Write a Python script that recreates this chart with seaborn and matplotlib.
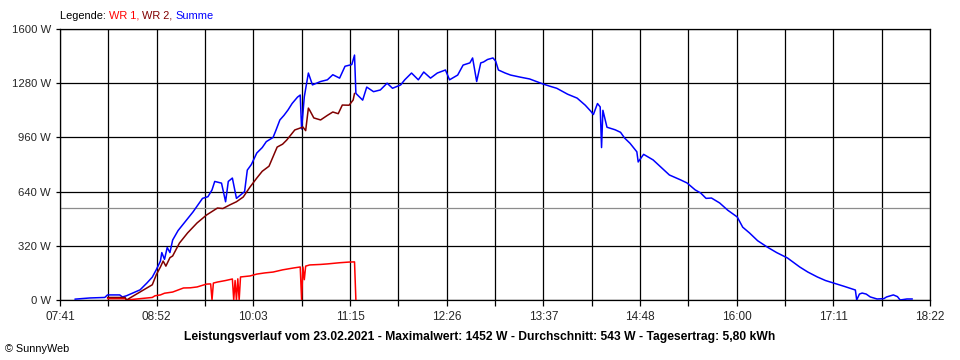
import matplotlib
matplotlib.use("Agg")
import matplotlib.pyplot as plt
import seaborn as sns
import numpy as np
import pandas as pd

# ---------------- data ----------------
summe_time = ["07:52","08:03","08:14","08:16","08:25","08:27","08:30","08:40","08:45","08:49",
              "08:52","08:55","08:56","08:58","09:00","09:02","09:04","09:08","09:13","09:19",
              "09:26","09:30","09:33","09:35","09:40","09:43","09:45","09:48","09:51","09:54",
              "09:57","09:59","10:02","10:06","10:10","10:13","10:18","10:20","10:23","10:26",
              "10:29","10:32","10:36","10:38","10:39","10:41","10:44","10:47","10:53","10:58",
              "11:02","11:07","11:11","11:16","11:18","11:19","11:24","11:27","11:32","11:37",
              "11:42","11:46","11:52","11:55","12:00","12:05","12:09","12:14","12:19","12:25",
              "12:28","12:34","12:38","12:43","12:45","12:48","12:51","12:53","12:56","13:00",
              "13:02","13:04","13:09","13:13","13:20","13:27","13:37","13:42","13:47","13:55",
              "14:02","14:08","14:12","14:14","14:17","14:19","14:20","14:21","14:24","14:30",
              "14:34","14:37","14:41","14:46","14:47","14:51","14:58","15:03","15:10","15:18",
              "15:23","15:29","15:33","15:37","15:41","15:47","15:53","16:00","16:04","16:09",
              "16:15","16:22","16:29","16:37","16:46","16:52","16:59","17:05","17:11","17:19",
              "17:27","17:28","17:30","17:32","17:35","17:38","17:43","17:48","17:50","17:55",
              "17:58","18:00","18:05","18:09"]
summe_watt = [5, 12, 15, 30, 30, 18, 25, 60, 100, 135,
              180, 230, 280, 240, 310, 280, 354, 410, 460, 520,
              600, 610, 650, 700, 690, 580, 700, 720, 600, 620,
              640, 767, 800, 868, 900, 935, 960, 1000, 1063, 1090,
              1122, 1160, 1198, 1210, 1010, 1200, 1340, 1270, 1290, 1300,
              1330, 1310, 1380, 1390, 1446, 1220, 1180, 1257, 1230, 1240,
              1280, 1250, 1270, 1300, 1340, 1300, 1346, 1310, 1340, 1358,
              1300, 1328, 1387, 1400, 1429, 1290, 1400, 1405, 1420, 1429,
              1410, 1358, 1340, 1328, 1316, 1305, 1275, 1262, 1250, 1215,
              1192, 1150, 1115, 1095, 1160, 1140, 900, 1120, 1020, 1005,
              990, 956, 925, 875, 815, 860, 827, 790, 738, 710,
              691, 650, 632, 600, 602, 573, 530, 490, 430, 396,
              350, 313, 280, 248, 195, 165, 136, 115, 100, 80,
              59, 0, 35, 41, 35, 18, 6, 8, 18, 30,
              20, 0, 6, 6]

wr2_time = ["08:16","08:29","08:30","08:49","08:52","08:55","08:57","08:59","09:02","09:04",
            "09:09","09:15","09:22","09:29","09:37","09:41","09:46","09:51","09:56","10:01",
            "10:06","10:10","10:15","10:21","10:25","10:28","10:34","10:40","10:42","10:44",
            "10:45","10:48","10:53","10:58","11:02","11:06","11:09","11:14","11:17","11:18"]
wr2_watt = [15, 15, 0, 90, 150, 195, 230, 200, 250, 260,
            336, 396, 455, 502, 543, 540, 561, 580, 608, 667,
            720, 760, 790, 903, 920, 944, 1004, 1021, 1000, 1133,
            1120, 1075, 1063, 1090, 1110, 1100, 1151, 1150, 1181, 1220]

wr1_time = ["08:16","08:29","08:30","08:49","08:51","08:55","08:58","09:04","09:12","09:17",
            "09:22","09:29","09:32","09:33","09:34","09:37","09:43","09:48","09:49","09:50",
            "09:51","09:52","09:53","09:54","10:01","10:06","10:12","10:18","10:25","10:33",
            "10:38","10:39","10:40","10:41","10:42","10:45","10:53","10:58","11:07","11:14",
            "11:18","11:19"]
wr1_watt = [8, 8, 0, 15, 25, 30, 40, 47, 71, 72,
            77, 94, 95, 0, 100, 106, 115, 124, 0, 115,
            0, 125, 0, 136, 142, 153, 160, 165, 178, 189,
            195, 0, 195, 120, 200, 207, 210, 213, 220, 224,
            225, 0]

average_watt = 543
y_ticks = [0, 320, 640, 960, 1280, 1600]
x_tick_labels = ["07:41", "08:52", "10:03", "11:15", "12:26",
                 "13:37", "14:48", "16:00", "17:11", "18:22"]
title_text = ("Leistungsverlauf vom 23.02.2021 - Maximalwert: 1452 W - "
              "Durchschnitt: 543 W - Tagesertrag: 5,80 kWh")


def to_min(s):
    h, m = s.split(":")
    return int(h) * 60 + int(m)


frames = []
for name, tt, ww in [("WR 1", wr1_time, wr1_watt),
                     ("WR 2", wr2_time, wr2_watt),
                     ("Summe", summe_time, summe_watt)]:
    frames.append(pd.DataFrame({"t": [to_min(s) for s in tt], "w": ww, "serie": name}))
df = pd.concat(frames, ignore_index=True)

colors = {"WR 1": "#FF0000", "WR 2": "#800000", "Summe": "#0000FF"}

# ---------------- figure ----------------
sns.set_theme(style="white")
plt.rcParams["font.family"] = ["Liberation Sans", "DejaVu Sans"]

fig = plt.figure(figsize=(9.6, 3.6), dpi=100)
fig.patch.set_facecolor("white")
ax = fig.add_axes([60 / 960, 1 - 300 / 360, 870 / 960, 271 / 360])
ax.set_facecolor("white")

t0 = to_min(x_tick_labels[0])
t1 = to_min(x_tick_labels[-1])
ax.set_xlim(t0, t1)
ax.set_ylim(0, 1600)

# grid
major_x = np.linspace(t0, t1, len(x_tick_labels))
all_x = np.linspace(t0, t1, 2 * len(x_tick_labels) - 1)
for xv in all_x:
    ax.axvline(xv, color="black", lw=0.9, zorder=1)
for yv in y_ticks:
    ax.axhline(yv, color="black", lw=0.9, zorder=1)
ax.axhline(average_watt, color="#8c8c8c", lw=0.9, zorder=1)

for name in ["WR 1", "Summe", "WR 2"]:
    sub = df[df["serie"] == name]
    sns.lineplot(data=sub, x="t", y="w", ax=ax, color=colors[name],
                 estimator=None, lw=1.1, zorder=3, legend=False)

ax.set_xlabel("")
ax.set_ylabel("")
ax.set_xticks(major_x)
ax.set_xticklabels(x_tick_labels)
ax.set_xticks(all_x, minor=True)
ax.set_yticks(y_ticks)
ax.set_yticklabels([f"{v} W" for v in y_ticks])
ax.tick_params(axis="x", which="both", direction="out", length=4.5, width=0.9,
               color="black", labelsize=8.5, pad=3.5, bottom=True)
ax.tick_params(axis="y", direction="out", length=3, width=0.9, color="black",
               labelsize=8.1, pad=3.5, left=True)
for side in ["top", "right", "left", "bottom"]:
    ax.spines[side].set_visible(True)
    ax.spines[side].set_color("black")
    ax.spines[side].set_linewidth(0.9)

# legend line
t = fig.text(60 / 960, 1 - 16 / 360, "Legende: ", fontsize=7.9, color="black",
             va="center", ha="left")
prev = t
for label, col in [("WR 1, ", "#FF0000"), ("WR 2, ", "#800000"), ("Summe", "#0000FF")]:
    prev = ax.annotate(label, xy=(1, 0.5), xycoords=prev, xytext=(0, 0),
                       textcoords="offset points", va="center", ha="left",
                       fontsize=7.9, color=col, annotation_clip=False)

fig.text(480 / 960, 1 - 337 / 360, title_text, fontsize=8.75, fontweight="bold",
         ha="center", va="center", color="black")
fig.text(5 / 960, 1 - 349 / 360, "© SunnyWeb", fontsize=7.8, ha="left",
         va="center", color="black")

fig.savefig("out.png", dpi=100, facecolor="white")
